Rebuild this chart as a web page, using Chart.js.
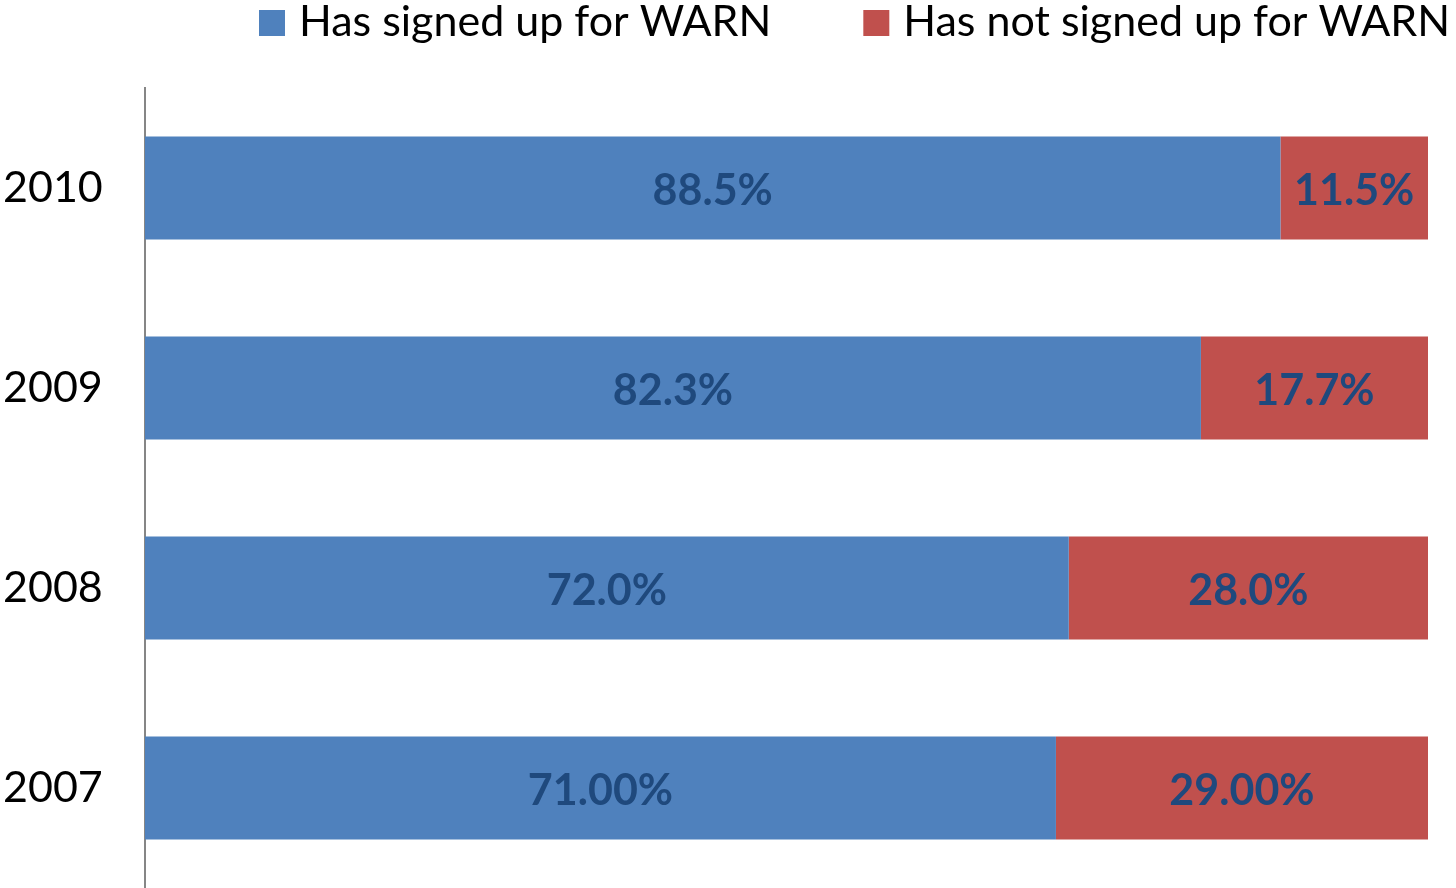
<!DOCTYPE html>
<html>
<head>
<meta charset="utf-8">
<script src="https://cdn.jsdelivr.net/npm/chart.js@4"></script>
<style>
  html, body { margin: 0; padding: 0; background: #fff; overflow: hidden; }
</style>
</head>
<body>
<canvas id="chart" width="1456" height="888"></canvas>
<script>
// data, top row first
const years = ["2010", "2009", "2008", "2007"];
const signedUp = [88.5, 82.3, 72.0, 71.0];
const notSignedUp = [11.5, 17.7, 28.0, 29.0];
const signedUpLabels = ["88.5%", "82.3%", "72.0%", "71.00%"];
const notSignedUpLabels = ["11.5%", "17.7%", "28.0%", "29.00%"];
const seriesNames = ["Has signed up for WARN", "Has not signed up for WARN"];

const FONT = "Lato, Carlito, 'Open Sans', sans-serif";

// legend drawn by hand so it can run off the right edge like the original
const topLegend = {
  id: "topLegend",
  afterDraw(chart) {
    const ctx = chart.ctx;
    ctx.save();
    ctx.font = `43px ${FONT}`;
    ctx.textBaseline = "middle";
    let x = 259;
    chart.data.datasets.forEach((ds) => {
      ctx.fillStyle = ds.backgroundColor;
      ctx.fillRect(x, 10, 26, 26);
      ctx.fillStyle = "#000";
      ctx.fillText(ds.label, x + 40, 22);
      x += 40 + ctx.measureText(ds.label).width + 92;
    });
    ctx.restore();
  }
};

// value labels in the middle of each segment
const barLabels = {
  id: "barLabels",
  afterDatasetsDraw(chart) {
    const ctx = chart.ctx;
    ctx.save();
    ctx.font = `bold 43px ${FONT}`;
    ctx.fillStyle = "#1F497D";
    ctx.textAlign = "center";
    ctx.textBaseline = "middle";
    chart.data.datasets.forEach((ds, i) => {
      chart.getDatasetMeta(i).data.forEach((bar, j) => {
        const cx = (bar.x + bar.base) / 2;
        ctx.fillText(ds.valueLabels[j], cx, bar.y + 3);
      });
    });
    ctx.restore();
  }
};

new Chart(document.getElementById("chart"), {
  type: "bar",
  data: {
    labels: years,
    datasets: [
      {
        label: seriesNames[0],
        data: signedUp,
        valueLabels: signedUpLabels,
        backgroundColor: "#4F81BD",
        categoryPercentage: 1,
        barPercentage: 0.515
      },
      {
        label: seriesNames[1],
        data: notSignedUp,
        valueLabels: notSignedUpLabels,
        backgroundColor: "#C0504D",
        categoryPercentage: 1,
        barPercentage: 0.515
      }
    ]
  },
  options: {
    indexAxis: "y",
    responsive: false,
    animation: false,
    layout: { padding: { top: 88, right: 28, bottom: 0, left: 3 } },
    plugins: {
      legend: { display: false },
      tooltip: { enabled: false }
    },
    scales: {
      x: {
        stacked: true,
        min: 0,
        max: 100,
        display: false
      },
      y: {
        stacked: true,
        grid: { display: false, drawTicks: false },
        border: { display: true, color: "#868686", width: 2 },
        ticks: {
          color: "#000",
          font: { family: FONT, size: 43 },
          crossAlign: "far",
          padding: 45
        },
        afterFit(scale) {
          scale.width = 142;
          // labels sit mid-row, no need for end padding
          scale.paddingTop = 0;
          scale.paddingBottom = 0;
        }
      }
    }
  },
  plugins: [topLegend, barLabels]
});
</script>
</body>
</html>
